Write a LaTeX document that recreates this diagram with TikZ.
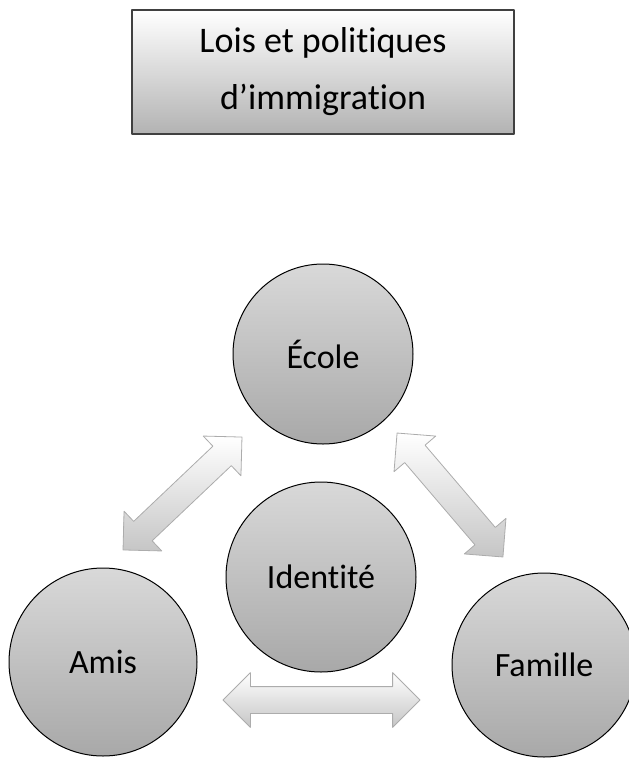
\documentclass[tikz,border=0pt]{standalone}
\usepackage{fontspec}
\setmainfont{Carlito}[Ligatures=NoCommon]
\usetikzlibrary{shapes.arrows}
\begin{document}
\begin{tikzpicture}[x=1pt, y=-1pt, line join=round,
  cadre/.style={rectangle, draw=black!75, line width=1.5pt, top color=white, bottom color=gray!60, minimum width=382pt, minimum height=124pt, align=center, font=\fontsize{36}{57}\selectfont},
  cercle/.style={circle, draw=black, line width=1pt, top color=gray!30, bottom color=gray!68, inner sep=0pt, font=\fontsize{34}{40}\selectfont},
  fleche/.style={double arrow, draw=gray!65, line width=.8pt, top color=white, bottom color=gray!45, inner sep=0pt, inner ysep=13pt, double arrow head extend=14pt}]
 \useasboundingbox (0,0) rectangle (629,758);
 \node[cadre] (lois) at (323,72) {Lois et politiques\\d’immigration};
 \node[cercle, minimum size=180pt] (ecole) at (323,354) {École};
 \node[cercle, minimum size=190pt] (identite) at (321,577) {Identité};
 \node[cercle, minimum size=188pt] (amis) at (103,662) {Amis};
 \node[cercle, minimum size=184pt] (famille) at (544,665) {Famille};
 \foreach \n/\x/\y/\r/\l in {fg/182.5/493.5/43.5/164, fd/450/495/-49.5/163, fb/321.5/700/0/197}
  \node[fleche, rotate=\r, minimum height=\l pt] (\n) at (\x,\y) {};
\end{tikzpicture}
\end{document}
